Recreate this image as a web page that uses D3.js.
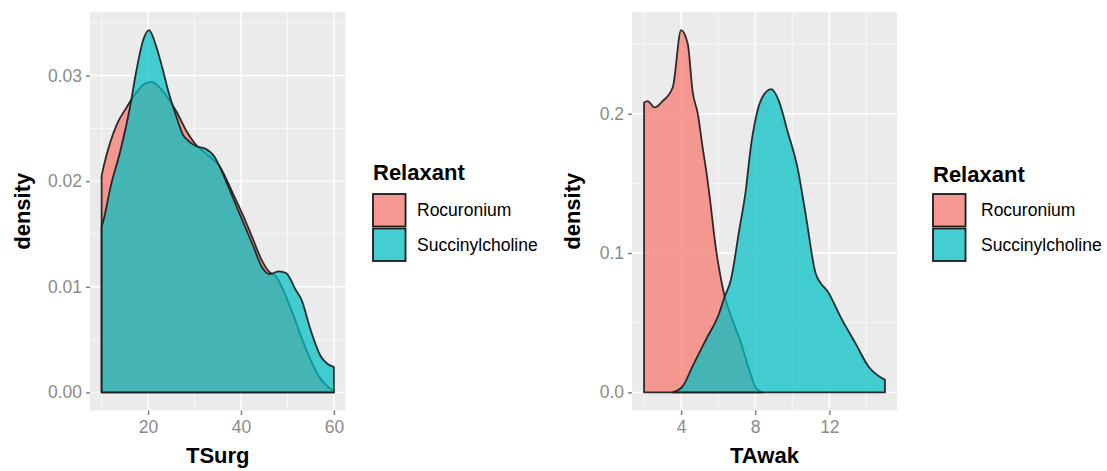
<!DOCTYPE html>
<html>
<head>
<meta charset="utf-8">
<script src="https://cdn.jsdelivr.net/npm/d3@7"></script>
<style>
  body { margin: 0; background: #fff; }
  svg { display: block; font-family: "Liberation Sans", Arial, sans-serif; }
</style>
</head>
<body>
<svg width="1107" height="471"></svg>
<script>
const relaxants = ['Rocuronium', 'Succinylcholine'];
const colors = ['#F8766D', '#00BFC4'];

// TSurg densities
const tsurgRocX = [10, 10.5, 11.8, 13.3, 15.4, 17.5, 19.2, 20.7, 22.4, 24.7, 26.1, 28.2, 30.4, 32.5, 35.4, 38.2, 40.4, 42.5, 44.6, 46.1, 47.5, 49.3, 51.1, 54, 56.8, 60];
const tsurgRocY = [0.0205, 0.0215, 0.0236, 0.0254, 0.0270, 0.0284, 0.0292, 0.0294, 0.0289, 0.0276, 0.0266, 0.0248, 0.0234, 0.0226, 0.0214, 0.0189, 0.0168, 0.0146, 0.0124, 0.0114, 0.0110, 0.0095, 0.0075, 0.0041, 0.0015, 0.0001];
const tsurgSuxX = [10, 10.4, 12, 14, 16.1, 17.5, 18.9, 20.2, 21.8, 23.2, 24.3, 26.1, 27.5, 29, 30.4, 32.2, 34.3, 36.1, 38.2, 40.4, 42.5, 44.6, 46.1, 48.2, 49.7, 51.8, 53, 55, 57.2, 60];
const tsurgSuxY = [0.0157, 0.0163, 0.0196, 0.0228, 0.0270, 0.0305, 0.0333, 0.0343, 0.0327, 0.0305, 0.0286, 0.0261, 0.0244, 0.0237, 0.0233, 0.0231, 0.0223, 0.0207, 0.0185, 0.0162, 0.0140, 0.0118, 0.0112, 0.01145, 0.0113, 0.0097, 0.0088, 0.0059, 0.0034, 0.0024];

// TAwak densities
const tawakRocX = [2, 2.2, 2.56, 3, 3.55, 4, 4.36, 4.62, 4.9, 5.16, 5.43, 5.61, 5.79, 6.06, 6.33, 6.77, 7.23, 7.67, 8.03, 8.4];
const tawakRocY = [0.208, 0.209, 0.2045, 0.209, 0.219, 0.26, 0.25, 0.216, 0.2, 0.176, 0.152, 0.133, 0.112, 0.088, 0.070, 0.052, 0.0355, 0.0164, 0.0033, 0];
const tawakSuxX = [3.55, 4.09, 4.62, 5.34, 6.06, 6.33, 6.69, 7.13, 7.49, 7.76, 8.03, 8.39, 8.87, 9.28, 9.73, 10.27, 10.72, 11.26, 11.97, 12.69, 13.4, 14.1, 15];
const tawakSuxY = [0, 0.0045, 0.0188, 0.0379, 0.057, 0.068, 0.081, 0.116, 0.145, 0.176, 0.197, 0.212, 0.2176, 0.209, 0.188, 0.162, 0.128, 0.0855, 0.0712, 0.052, 0.0355, 0.0188, 0.009];

const tsurgXTicks = [20, 40, 60];
const tsurgYTicks = [0, 0.01, 0.02, 0.03];
const tawakXTicks = [4, 8, 12];
const tawakYTicks = [0, 0.1, 0.2];

const svg = d3.select('svg');

const panels = [
    {
        title: 'TSurg', left: 90, right: 345.5, top: 12, bottom: 410.5,
        series: [[tsurgRocX, tsurgRocY], [tsurgSuxX, tsurgSuxY]],
        xTicks: tsurgXTicks, yTicks: tsurgYTicks, yFormat: d3.format('.2f'),
        yTitleX: 29.5, legendX: 372, titleY: 180, labelX: 417
    },
    {
        title: 'TAwak', left: 632, right: 897, top: 12, bottom: 410.5,
        series: [[tawakRocX, tawakRocY], [tawakSuxX, tawakSuxY]],
        xTicks: tawakXTicks, yTicks: tawakYTicks, yFormat: d3.format('.1f'),
        yTitleX: 579.5, legendX: 932, titleY: 182, labelX: 981
    }
];

const minorTicks = (ticks, domain) => {
    const step = ticks[1] - ticks[0];
    const out = [];
    for (let i = -1; i < ticks.length; i++) {
        const v = ticks[0] + step * (i + 0.5);
        if (v > domain[0] && v < domain[1]) out.push(v);
    }
    return out;
};

panels.forEach(p => {
    const allX = p.series.flatMap(s => s[0]);
    const allY = p.series.flatMap(s => s[1]);
    const [x0, x1] = d3.extent(allX);
    const yMax = d3.max(allY);
    const xPad = (x1 - x0) * 0.05;

    const xScale = d3.scaleLinear()
        .domain([x0 - xPad, x1 + xPad])
        .range([p.left, p.right]);
    const yScale = d3.scaleLinear()
        .domain([-yMax * 0.05, yMax * 1.05])
        .range([p.bottom, p.top]);

    const g = svg.append('g');

    g.append('rect')
        .attr('x', p.left).attr('y', p.top)
        .attr('width', p.right - p.left).attr('height', p.bottom - p.top)
        .attr('fill', '#EBEBEB');

    // grid
    minorTicks(p.xTicks, xScale.domain()).forEach(v => {
        g.append('line')
            .attr('x1', xScale(v)).attr('x2', xScale(v))
            .attr('y1', p.top).attr('y2', p.bottom)
            .attr('stroke', '#fff').attr('stroke-width', 0.7);
    });
    minorTicks(p.yTicks, yScale.domain()).forEach(v => {
        g.append('line')
            .attr('x1', p.left).attr('x2', p.right)
            .attr('y1', yScale(v)).attr('y2', yScale(v))
            .attr('stroke', '#fff').attr('stroke-width', 0.7);
    });
    p.xTicks.forEach(v => {
        g.append('line')
            .attr('x1', xScale(v)).attr('x2', xScale(v))
            .attr('y1', p.top).attr('y2', p.bottom)
            .attr('stroke', '#fff').attr('stroke-width', 1.4);
    });
    p.yTicks.forEach(v => {
        g.append('line')
            .attr('x1', p.left).attr('x2', p.right)
            .attr('y1', yScale(v)).attr('y2', yScale(v))
            .attr('stroke', '#fff').attr('stroke-width', 1.4);
    });

    // densities
    p.series.forEach((s, i) => {
        const pts = s[0].map((x, j) => [x, s[1][j]]);
        const area = d3.area()
            .x(d => xScale(d[0]))
            .y0(yScale(0))
            .y1(d => yScale(d[1]))
            .curve(d3.curveMonotoneX);
        g.append('path')
            .datum(pts)
            .attr('d', area)
            .attr('fill', colors[i])
            .attr('fill-opacity', 0.72)
            .attr('stroke', '#1a1a1a')
            .attr('stroke-width', 1.8)
            .attr('stroke-opacity', 0.9)
            .attr('stroke-linejoin', 'round');
    });

    // axes
    const xAxisG = g.append('g')
        .attr('transform', `translate(0, ${p.bottom})`)
        .call(d3.axisBottom(xScale).tickValues(p.xTicks).tickSize(4.5).tickPadding(6));
    const yAxisG = g.append('g')
        .attr('transform', `translate(${p.left}, 0)`)
        .call(d3.axisLeft(yScale).tickValues(p.yTicks).tickFormat(p.yFormat).tickSize(4).tickPadding(4));

    [xAxisG, yAxisG].forEach(a => {
        a.select('.domain').remove();
        a.selectAll('.tick line').attr('stroke', '#7a7a7a').attr('stroke-width', 1.4);
        a.selectAll('.tick text')
            .attr('fill', '#8a8a8a')
            .style('font-size', '17.5px')
            .style('font-family', '"Liberation Sans", Arial, sans-serif');
    });

    g.append('text')
        .attr('x', (p.left + p.right) / 2)
        .attr('y', 463)
        .attr('text-anchor', 'middle')
        .style('font-size', '22px')
        .style('font-weight', 'bold')
        .text(p.title);

    g.append('text')
        .attr('transform', `translate(${p.yTitleX}, ${(p.top + p.bottom) / 2}) rotate(-90)`)
        .attr('text-anchor', 'middle')
        .style('font-size', '22px')
        .style('font-weight', 'bold')
        .text('density');

    // legend
    const lg = g.append('g');
    lg.append('text')
        .attr('x', p.legendX + 1)
        .attr('y', p.titleY)
        .style('font-size', '22px')
        .style('font-weight', 'bold')
        .text('Relaxant');

    relaxants.forEach((name, i) => {
        const ky = 193 + i * 34.5;
        lg.append('rect')
            .attr('x', p.legendX).attr('y', ky)
            .attr('width', 34.5).attr('height', 34.5)
            .attr('fill', '#F2F2F2');
        lg.append('rect')
            .attr('x', p.legendX + 1).attr('y', ky + 1)
            .attr('width', 32.5).attr('height', 32.5)
            .attr('fill', colors[i])
            .attr('fill-opacity', 0.72)
            .attr('stroke', '#1a1a1a')
            .attr('stroke-width', 1.8);
        lg.append('text')
            .attr('x', p.labelX)
            .attr('y', ky + 17 + 6)
            .style('font-size', '17.5px')
            .text(name);
    });
});
</script>
</body>
</html>
